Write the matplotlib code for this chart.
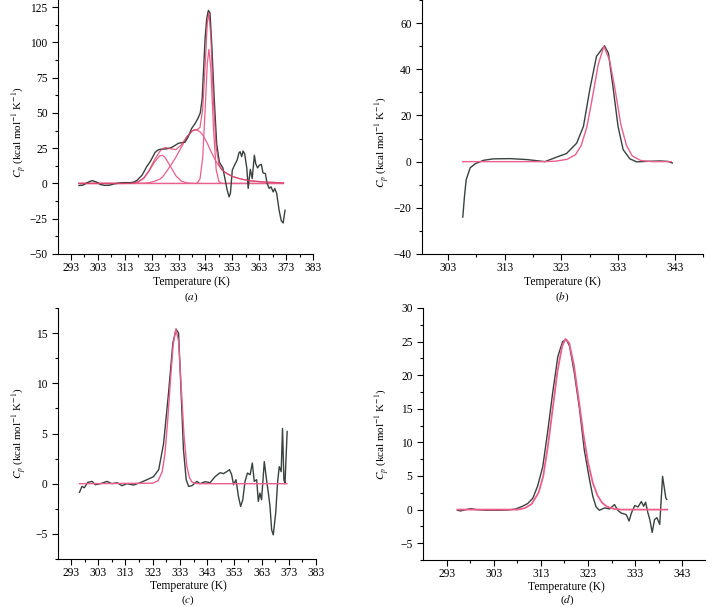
import numpy as np
import matplotlib
matplotlib.use('Agg')
import matplotlib.pyplot as plt

plt.rcParams['font.family'] = ['Liberation Serif', 'DejaVu Serif']
plt.rcParams['mathtext.fontset'] = 'stix'

# ---- panel (a): measured Cp and fitted components ----
a_T = [296, 297.5, 299, 300.8, 302.5, 304, 305.7, 307.5, 309, 311, 313, 315, 316.5, 317.7,
       319.5, 321.2, 322.5, 324.3, 325.2, 326.1, 327.1, 328.6, 330, 331.1, 333, 334.5, 335.4,
       336.6, 337.9, 339.2, 340.2, 341.1, 341.8, 342.3, 342.9, 343.5, 344.1, 344.7, 345.4,
       346.3, 347.2, 348.2, 349.5, 350.3, 351.1, 351.8, 352.3, 353, 354.1, 354.8, 355.5, 355.9,
       356.5, 357, 357.6, 358.4, 358.9, 359.3, 359.7, 360.4, 361.2, 361.7, 362.4, 363.1, 363.8,
       364.4, 365.3, 365.9, 366.7, 367.4, 368.2, 368.8, 369.5, 370.4, 371.2, 371.9, 372.6]
a_cp = [-1.5, -1.2, 0.5, 2, 1, -0.8, -1.4, -1.2, -0.3, 0.3, 0.6, 0.5, 1, 2.4,
        6, 12, 15.5, 22, 23.5, 24.2, 24.3, 24.5, 25.2, 26.2, 28.5, 29, 29.2,
        33, 39, 42.6, 46, 50, 60, 80, 103, 117, 122.6, 121, 97,
        59, 28, 15, 11, 3, -4.7, -9.5, -7, 9.5, 14, 16.6, 21.8, 22.5,
        19, 23, 21, 10.7, -3.5, 3.6, 10, 3.5, 20, 14, 11, 13, 13.5,
        7.5, 7, 0.3, -3.5, -2.4, -6, -3.6, -7, -19, -26.4, -28, -19]

a_fitT = [296, 300, 304, 308, 312, 314, 316, 318, 320, 322, 324, 326, 327, 328, 330, 332, 334,
          336, 338, 339, 340, 341, 342, 343, 343.7, 344.3, 345, 346, 347, 348, 349, 350, 351,
          353, 356, 360, 365, 372]
a_peak1 = [0, 0, 0, 0, 0, 0.04, 0.24, 1.1, 3.5, 8.5, 15, 19.6, 19.9, 18.5, 12.1, 5.5, 1.7,
           0.4, 0.05, 0, 0, 0, 0, 0, 0, 0, 0, 0, 0, 0, 0, 0, 0,
           0, 0, 0, 0, 0]
a_peak2 = [0, 0, 0, 0, 0, 0, 0, 0.05, 0.2, 0.5, 1.5, 3.0, 4.5, 7, 12.5, 18.5, 25.5,
           32.5, 37, 38, 37.8, 36.5, 34.5, 31, 28.5, 26, 23, 19, 15.5, 12.5, 10, 8.3, 7,
           5, 3.2, 1.8, 1, 0.4]
a_peak3 = [0, 0, 0, 0, 0, 0, 0, 0, 0, 0, 0, 0, 0, 0, 0, 0, 0,
           0, 0, 0, 0.3, 3.3, 18.4, 56, 85, 95, 82, 39, 9.9, 1.4, 0.1, 0, 0,
           0, 0, 0, 0, 0]
a_sum = [0, 0, 0, 0, 0, 0.04, 0.24, 1.15, 3.7, 9.0, 16.5, 22.6, 24.4, 25.5, 24.6, 24.0, 27.2,
         32.9, 37.1, 38, 38.1, 39.8, 52.9, 87, 113.5, 121, 105, 58, 25.4, 13.9, 10.1, 8.3, 7,
         5, 3.2, 1.8, 1, 0.4]
a_base = [0, 0, 0, 0, 0, 0, 0, 0, 0, 0, 0, 0, 0, 0, 0, 0, 0,
          0, 0, 0, 0, 0, 0, 0, 0, 0, 0, 0, 0, 0, 0, 0, 0,
          0, 0, 0, 0, 0]

# ---- panel (b) ----
b_T = [305.6, 305.9, 306.2, 306.9, 307.8, 309.3, 311, 314, 316.9, 320.1, 322.2, 323.9, 325.7,
       326.9, 328, 329.2, 330.6, 331.3, 332.1, 333, 333.9, 335.1, 336.3, 338, 340.4, 341.8, 342.6]
b_cp = [-24, -15, -7.8, -2.7, -0.9, 0.6, 1.2, 1.3, 0.9, 0, 2, 3.5, 8,
        15.3, 31, 45.6, 50.2, 47, 32.6, 15.3, 5.2, 1.2, -0.1, 0.1, 0.3, 0.1, -0.6]
b_fitT = [305.6, 320, 322, 324, 325.5, 326.5, 327.5, 328.5, 329.5, 330.5, 331.5, 332.5, 333.5,
          334.5, 335.5, 337, 339, 342.4]
b_fit = [0, 0, 0.2, 1, 3, 7, 15, 28, 42, 50, 44, 31, 16,
         7, 2.5, 0.5, 0, 0]

# ---- panel (c) ----
c_T = [296.1, 297, 297.9, 299.1, 300.7, 301.9, 303.8, 306.2, 308, 309.9, 311.7, 313.5, 316,
       318.4, 320.9, 323.3, 325.2, 327, 328.8, 330.4, 331.6, 332.5, 333.3, 334.3, 335.3, 336.2,
       337.4, 339.2, 340.4, 342.3, 344.1, 345.9, 347.8, 349, 350.2, 351.2, 352, 352.7, 353.6,
       354.5, 355.3, 356.1, 356.9, 357.8, 358.8, 359.6, 360.3, 361.2, 361.8, 362.4, 363, 364,
       364.9, 365.5, 366.1, 366.7, 367.3, 368.2, 368.9, 369.5, 370.2, 370.7, 371.2, 371.6, 372.4]
c_cp = [-0.86, -0.27, -0.4, 0.13, 0.23, -0.1, 0, 0.23, 0, 0.1, -0.2, 0, -0.13,
        0.1, 0.4, 0.7, 1.4, 4, 9, 14, 15.4, 15, 10, 3.4, 0.4, -0.27,
        -0.2, 0.23, 0, 0.2, 0.1, 0.7, 1.1, 1.0, 1.2, 1.4, 0.9, -0.1, 0.4,
        -1.26, -2.26, -1.6, 0.2, 1.06, 0.9, 2.06, 0.23, 0.4, -1.76, -0.93, -1.6, 2.2,
        0.23, -0.93, -2.26, -4.6, -5.1, -2.9, 0.2, 1.7, 1.2, 5.5, 0.4, 0.0, 5.2]
c_fitT = [296.1, 323, 325, 326.5, 327.5, 328.5, 329.5, 330.5, 331.5, 332.5, 333.5, 334.5,
          335.5, 336.5, 337.5, 339, 341, 372.3]
c_fit = [0, 0.05, 0.3, 1.2, 3, 6.3, 10.2, 13.8, 15.4, 14.2, 9.5, 4.8,
         1.8, 0.6, 0.15, 0.02, 0, 0]

# ---- panel (d) ----
d_T = [295.3, 296, 297.1, 298.2, 299.2, 301.4, 304.2, 306.3, 307.7, 309.1, 310.2, 311.3, 312.3,
       313.4, 314.4, 315.5, 316.6, 317.6, 318.4, 319.1, 320.1, 321.2, 322.2, 323.3, 324, 324.7,
       325.4, 326.5, 327.6, 328.6, 329.3, 330, 331.1, 331.7, 332.2, 332.9, 333.6, 334.3, 334.8,
       335.2, 335.7, 336.1, 336.6, 337.1, 337.6, 338.2, 338.8, 339.5, 339.7]
d_cp = [-0.1, -0.2, 0, 0.15, 0, -0.1, -0.1, -0.05, 0.1, 0.5, 0.9, 1.7, 3.5,
        6.4, 11.4, 17.4, 22.8, 25, 25.3, 24.3, 20.3, 14.9, 8.9, 4.5, 2, 0.4,
        -0.1, 0.25, 0.1, 0.75, -0.1, -0.5, -0.75, -1.7, -0.5, 0.6, 0.4, 1.2, 0.5,
        1.1, -0.5, -1.5, -3.4, -1.5, -1.2, -2.2, 4.95, 1.7, 1.5]
d_fitT = [295.3, 308, 309.5, 311, 312.5, 313.5, 314.5, 315.5, 316.5, 317.5, 318.2, 319, 320,
          321, 322, 323, 324, 325, 326, 327, 328.5, 330, 339.8]
d_fit = [0, 0, 0.2, 0.8, 2.5, 5, 9.5, 15, 20.5, 24.3, 25.4, 24.8, 21.5,
         16.5, 11.3, 7, 4, 2.1, 1.0, 0.45, 0.1, 0, 0]

data_col = '#39413d'
fit_col = '#ea5f8b'
fs = 8.3

W, H = 721, 607
fig = plt.figure(figsize=(W / 100, H / 100), dpi=100)


def make_ax(l, t, r, b):
    return fig.add_axes([l / W, 1 - b / H, (r - l) / W, (b - t) / H])


axa = make_ax(58, 0, 313, 254)
axb = make_ax(422, 0, 703, 254)
axc = make_ax(58, 308, 316, 559)
axd = make_ax(423, 308, 705, 560)

# (a)
axa.plot(a_fitT, a_base, color=fit_col, lw=0.9)
axa.plot(a_fitT, a_peak1, color=fit_col, lw=0.9)
axa.plot(a_fitT, a_peak2, color=fit_col, lw=0.9)
axa.plot(a_fitT, a_peak3, color=fit_col, lw=0.9)
axa.plot(a_T, a_cp, color=data_col, lw=1.0)
axa.plot(a_fitT, a_sum, color='#d9466f', lw=0.9, alpha=0.85)
# (b)
axb.plot(b_T, b_cp, color=data_col, lw=1.0)
axb.plot(b_fitT, b_fit, color=fit_col, lw=1.0)
# (c)
axc.plot(c_T, c_cp, color=data_col, lw=1.0)
axc.plot(c_fitT, c_fit, color=fit_col, lw=1.0)
# (d)
axd.plot(d_T, d_cp, color=data_col, lw=1.0)
axd.plot(d_fitT, d_fit, color=fit_col, lw=1.3)

# ax, xlim, xticks, minor xticks, ylim, yticks, minor yticks,
# ylabel (x, y), xlabel (x, y), panel letter y, letter
settings = [
    (axa, (288.2, 383), np.arange(293, 384, 10), np.arange(298, 383, 10),
     (-50, 130), np.arange(-50, 126, 25), np.arange(-37.5, 130, 25),
     (-0.118, 0.48), (0.524, -0.088), -0.17, 'a'),
    (axb, (298.4, 348), np.arange(303, 344, 10), np.arange(308, 349, 10),
     (-40, 70), np.arange(-40, 61, 20), np.arange(-30, 71, 20),
     (-0.11, 0.44), (0.5, -0.088), -0.17, 'b'),
    (axc, (288.2, 383), np.arange(293, 384, 10), np.arange(298, 383, 10),
     (-7.5, 17.5), np.arange(-5, 16, 5), np.arange(-7.5, 18, 5),
     (-0.116, 0.5), (0.504, -0.083), -0.163, 'c'),
    (axd, (288, 347.8), np.arange(293, 344, 10), np.arange(298, 348, 10),
     (-7.5, 30), np.arange(-5, 31, 5), np.arange(-7.5, 30, 5),
     (-0.113, 0.5), (0.51, -0.082), -0.16, 'd'),
]

for ax, xl, xt, xm, yl, yt, ym, ylc, xlc, lety, letter in settings:
    ax.set_xlim(xl)
    ax.set_ylim(yl)
    ax.set_xticks(xt)
    ax.set_xticks(xm, minor=True)
    ax.set_yticks(yt)
    ax.set_yticks(ym, minor=True)
    ax.spines['top'].set_visible(False)
    ax.spines['right'].set_visible(False)
    ax.tick_params(which='both', direction='out', labelsize=fs)
    ax.tick_params(which='major', length=4, width=0.8)
    ax.tick_params(which='minor', length=2.5, width=0.8)
    ax.tick_params(axis='x', pad=2)
    ax.set_xlabel('Temperature (K)', fontsize=fs)
    ax.xaxis.set_label_coords(xlc[0], xlc[1])
    ax.set_ylabel(r'$C_p$ (kcal mol$^{-1}$ K$^{-1}$)', fontsize=7.9)
    ax.yaxis.set_label_coords(ylc[0], ylc[1])
    ax.text(xlc[0], lety, '($' + letter + '$)', transform=ax.transAxes,
            ha='center', va='center', fontsize=8)

fig.savefig('out.png', dpi=100)
